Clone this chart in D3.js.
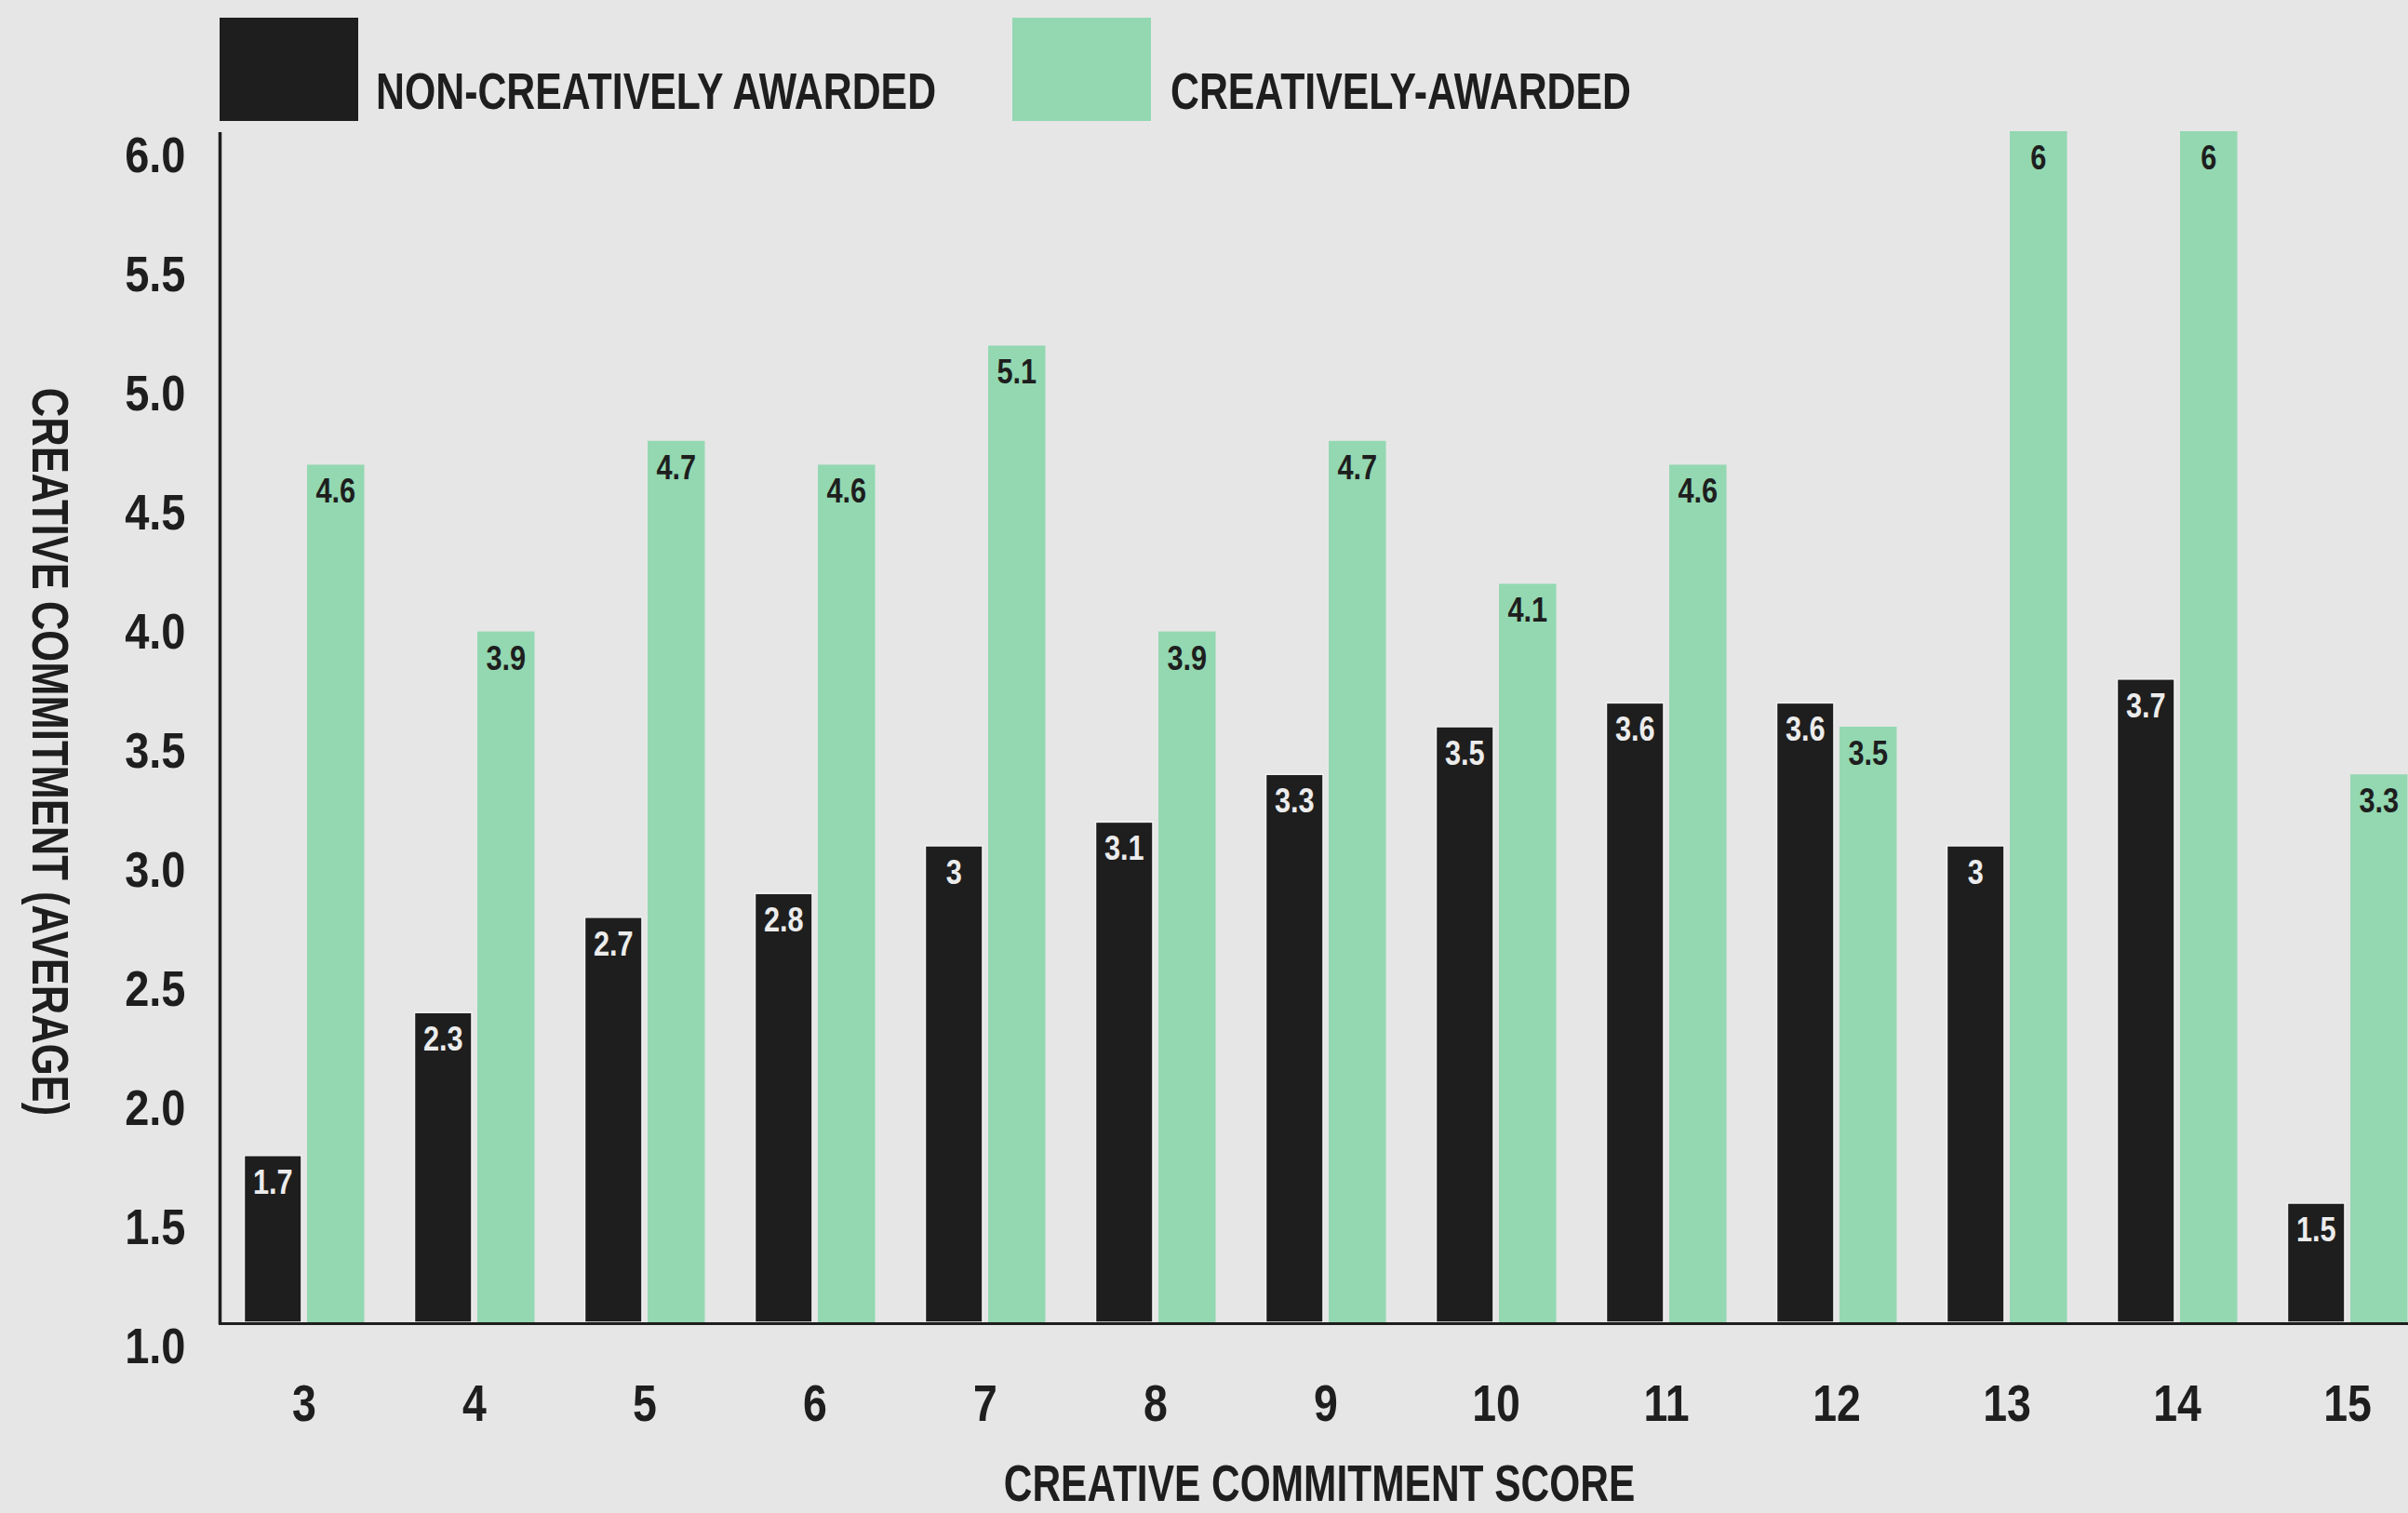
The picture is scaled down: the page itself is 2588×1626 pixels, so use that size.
<!DOCTYPE html>
<html>
<head>
<meta charset="utf-8">
<script src="https://cdn.jsdelivr.net/npm/d3@7"></script>
<style>
  html, body { margin: 0; padding: 0; background: #e6e6e6; }
  svg { display: block; }
  text { font-family: "Liberation Sans", Arial, sans-serif; font-weight: bold; }
</style>
</head>
<body>
<svg id="chart" width="2588" height="1626"></svg>
<script>
// ---- data ----
const categories = ["3", "4", "5", "6", "7", "8", "9", "10", "11", "12", "13", "14", "15"];
const nonCreative = [1.7, 2.3, 2.7, 2.8, 3, 3.1, 3.3, 3.5, 3.6, 3.6, 3, 3.7, 1.5];
const creative = [4.6, 3.9, 4.7, 4.6, 5.1, 3.9, 4.7, 4.1, 4.6, 3.5, 6, 6, 3.3];
const seriesNames = ["NON-CREATIVELY AWARDED", "CREATIVELY-AWARDED"];
const yTicks = [1.0, 1.5, 2.0, 2.5, 3.0, 3.5, 4.0, 4.5, 5.0, 5.5, 6.0];
const xTitle = "CREATIVE COMMITMENT SCORE";
const yTitle = "CREATIVE COMMITMENT (AVERAGE)";

(function () {
// ---- styles ----
const W = 2588, H = 1626;
const BG = "#e6e6e6", DARK = "#1e1e1e", GREEN = "#93d8b1", LIGHT = "#ececec";
const colors = [DARK, GREEN];
const labelColors = [LIGHT, DARK];
const plotLeft = 236.5, plotTop = 141, plotBottom = 1421;
const step = 183;

const svg = d3.select("#chart");
svg.append("rect").attr("width", W).attr("height", H).attr("fill", BG);

const y = d3.scaleLinear().domain([1, 6]).range([plotBottom, plotTop]);
const x0 = d3.scaleBand().domain(categories)
  .range([plotLeft - 1, plotLeft - 1 + categories.length * step])
  .paddingInner(0.295).paddingOuter(0.1475);
const x1 = d3.scaleBand().domain([0, 1]).range([0, x0.bandwidth()]).paddingInner(0.09);

const rows = categories.map((c, i) => ({ cat: c, vals: [nonCreative[i], creative[i]] }));

// bars
const groups = svg.append("g").selectAll("g").data(rows).join("g")
  .attr("transform", d => `translate(${x0(d.cat)},0)`);

groups.selectAll("rect").data(d => d.vals.map((v, k) => ({ v, k }))).join("rect")
  .attr("x", d => x1(d.k))
  .attr("width", x1.bandwidth())
  .attr("y", d => y(d.v))
  .attr("height", d => y(1) - y(d.v))
  .attr("fill", d => colors[d.k])
  .attr("stroke", d => d.k === 0 ? "#f2f2f2" : "none")
  .attr("stroke-width", 1.5);

// bar value labels
const sLab = 0.83;
groups.selectAll("text").data(d => d.vals.map((v, k) => ({ v, k }))).join("text")
  .attr("transform", d => `translate(${x1(d.k) + x1.bandwidth() / 2},${y(d.v) + 41}) scale(${sLab},1)`)
  .attr("text-anchor", "middle")
  .attr("font-size", 37)
  .attr("fill", d => labelColors[d.k])
  .text(d => String(d.v));

// y axis
const sY = 0.87;
const yAxis = svg.append("g").attr("transform", `translate(${plotLeft},0)`)
  .call(d3.axisLeft(y).tickValues(yTicks).tickFormat(d3.format(".1f")).tickSize(0).tickSizeOuter(0));
yAxis.select(".domain").attr("stroke", DARK).attr("stroke-width", 3.5)
  .attr("d", `M0,${plotTop + 1}V${plotBottom + 2}`);
yAxis.selectAll(".tick text")
  .attr("font-size", 54).attr("fill", DARK)
  .attr("dy", null).attr("x", null).attr("y", null)
  .attr("text-anchor", "end")
  .attr("transform", `translate(-37,43) scale(${sY},1)`);

// x axis
const sX = 0.83;
const xAxis = svg.append("g").attr("transform", `translate(0,${plotBottom + 1.5})`)
  .call(d3.axisBottom(x0).tickSize(0).tickSizeOuter(0));
xAxis.select(".domain").attr("stroke", DARK).attr("stroke-width", 3)
  .attr("d", `M${plotLeft - 1.5},0H${W}`);
xAxis.selectAll(".tick text")
  .attr("font-size", 56).attr("fill", DARK)
  .attr("dy", null).attr("y", null)
  .attr("transform", `translate(0,104) scale(${sX},1)`);
svg.selectAll("g.tick, g[font-family]").attr("font-family", null);

// axis titles
svg.append("text")
  .attr("transform", `translate(1418,1613) scale(0.772,1)`)
  .attr("text-anchor", "middle").attr("font-size", 55).attr("fill", DARK)
  .text(xTitle);
svg.append("text")
  .attr("transform", `translate(35,808) rotate(90) scale(0.778,1)`)
  .attr("text-anchor", "middle").attr("font-size", 56).attr("fill", DARK)
  .text(yTitle);

// legend
const legendX = [236, 1088];
const legendTextX = [404, 1258];
const lg = svg.append("g").selectAll("g").data(seriesNames).join("g");
lg.append("rect")
  .attr("x", (d, i) => legendX[i]).attr("y", 19)
  .attr("width", 149).attr("height", 111)
  .attr("fill", (d, i) => colors[i]);
lg.append("text")
  .attr("transform", (d, i) => `translate(${legendTextX[i]},117) scale(0.765,1)`)
  .attr("font-size", 56).attr("fill", DARK)
  .text(d => d);
})();
</script>
</body>
</html>
